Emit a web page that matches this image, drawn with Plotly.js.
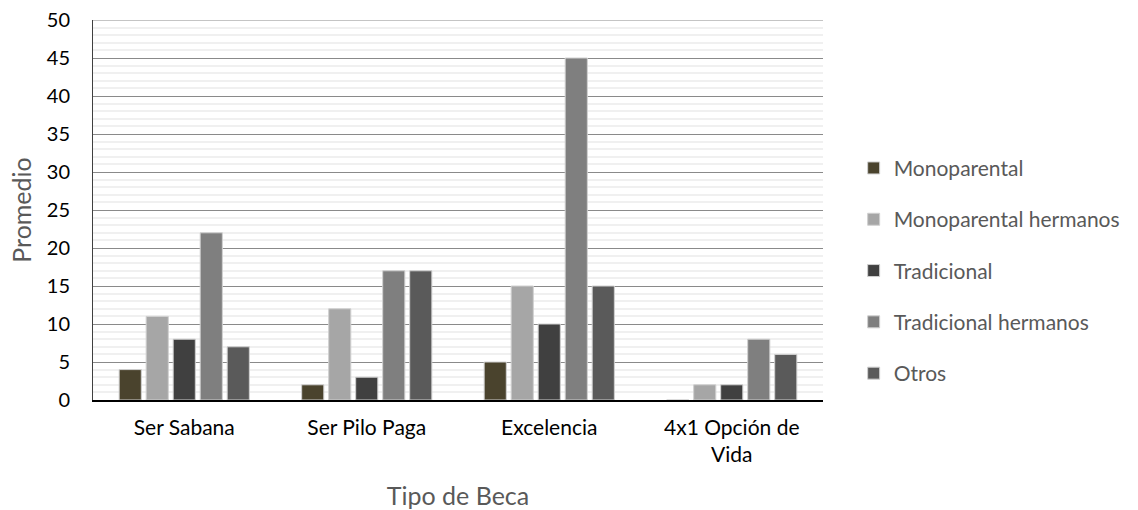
<!DOCTYPE html>
<html><head><meta charset="utf-8">
<script src="https://cdn.plot.ly/plotly-3.0.1.min.js"></script>
<style>html,body{margin:0;padding:0;background:#fff}</style>
</head><body>
<div id="chart" style="width:1138px;height:510px"></div>
<script>
const categories = ["Ser Sabana", "Ser Pilo Paga", "Excelencia", "4x1 Opción de<br>Vida"];
const seriesNames = ["Monoparental", "Monoparental hermanos", "Tradicional", "Tradicional hermanos", "Otros"];
const monoparental = [4, 2, 5, 0];
const monoparentalHermanos = [11, 12, 15, 2];
const tradicional = [8, 3, 10, 2];
const tradicionalHermanos = [22, 17, 45, 8];
const otros = [7, 17, 15, 6];
const seriesValues = [monoparental, monoparentalHermanos, tradicional, tradicionalHermanos, otros];
const colors = ["#4a432d", "#a6a6a6", "#404040", "#7f7f7f", "#5a5a5a"];
const font = "Lato, sans-serif";

const traces = seriesNames.map((n, i) => ({
  type: "bar", name: n, x: categories, y: seriesValues[i],
  legendgroup: "g" + i,
  marker: {color: colors[i], line: {color: "#d0d0d0", width: 1}},
  hoverinfo: "skip"
}));

const layout = {
  width: 1138, height: 510,
  margin: {l: 93, r: 315, t: 20, b: 110},
  paper_bgcolor: "#fff", plot_bgcolor: "#fff",
  barmode: "group", bargap: 0.26, bargroupgap: 0.18,
  font: {family: font, size: 20, color: "#000"},
  xaxis: {
    showline: true, linecolor: "#000", linewidth: 1.5, ticks: "",
    tickfont: {size: 21, color: "#000"}, ticklabelstandoff: 8,
    title: {text: "Tipo de Beca", font: {size: 25, color: "#595959"}, standoff: 22},
    fixedrange: true
  },
  yaxis: {
    range: [0, 50], dtick: 5, showline: true, linecolor: "#404040", linewidth: 1,
    showgrid: true, gridcolor: "#8a8a8a", gridwidth: 1,
    minor: {dtick: 1, showgrid: true, gridcolor: "#f0f0f0", gridwidth: 2},
    tickfont: {size: 20, color: "#000"}, ticks: "", ticklabelstandoff: 18,
    zeroline: false,
    title: {text: "Promedio", font: {size: 25, color: "#595959"}, standoff: 8},
    fixedrange: true
  },
  shapes: [{type: "line", xref: "paper", yref: "y", x0: 0, x1: 1, y0: 50, y1: 50, line: {color: "#8a8a8a", width: 1}}],
  legend: {
    x: 1.042, xref: "paper", xanchor: "left", y: 0.34, yanchor: "middle",
    font: {size: 21, color: "#595959"}, traceorder: "grouped", tracegroupgap: 21,
    itemwidth: 30
  },
  showlegend: true
};
Plotly.newPlot("chart", traces, layout, {displayModeBar: false, staticPlot: true});
</script>
</body></html>
